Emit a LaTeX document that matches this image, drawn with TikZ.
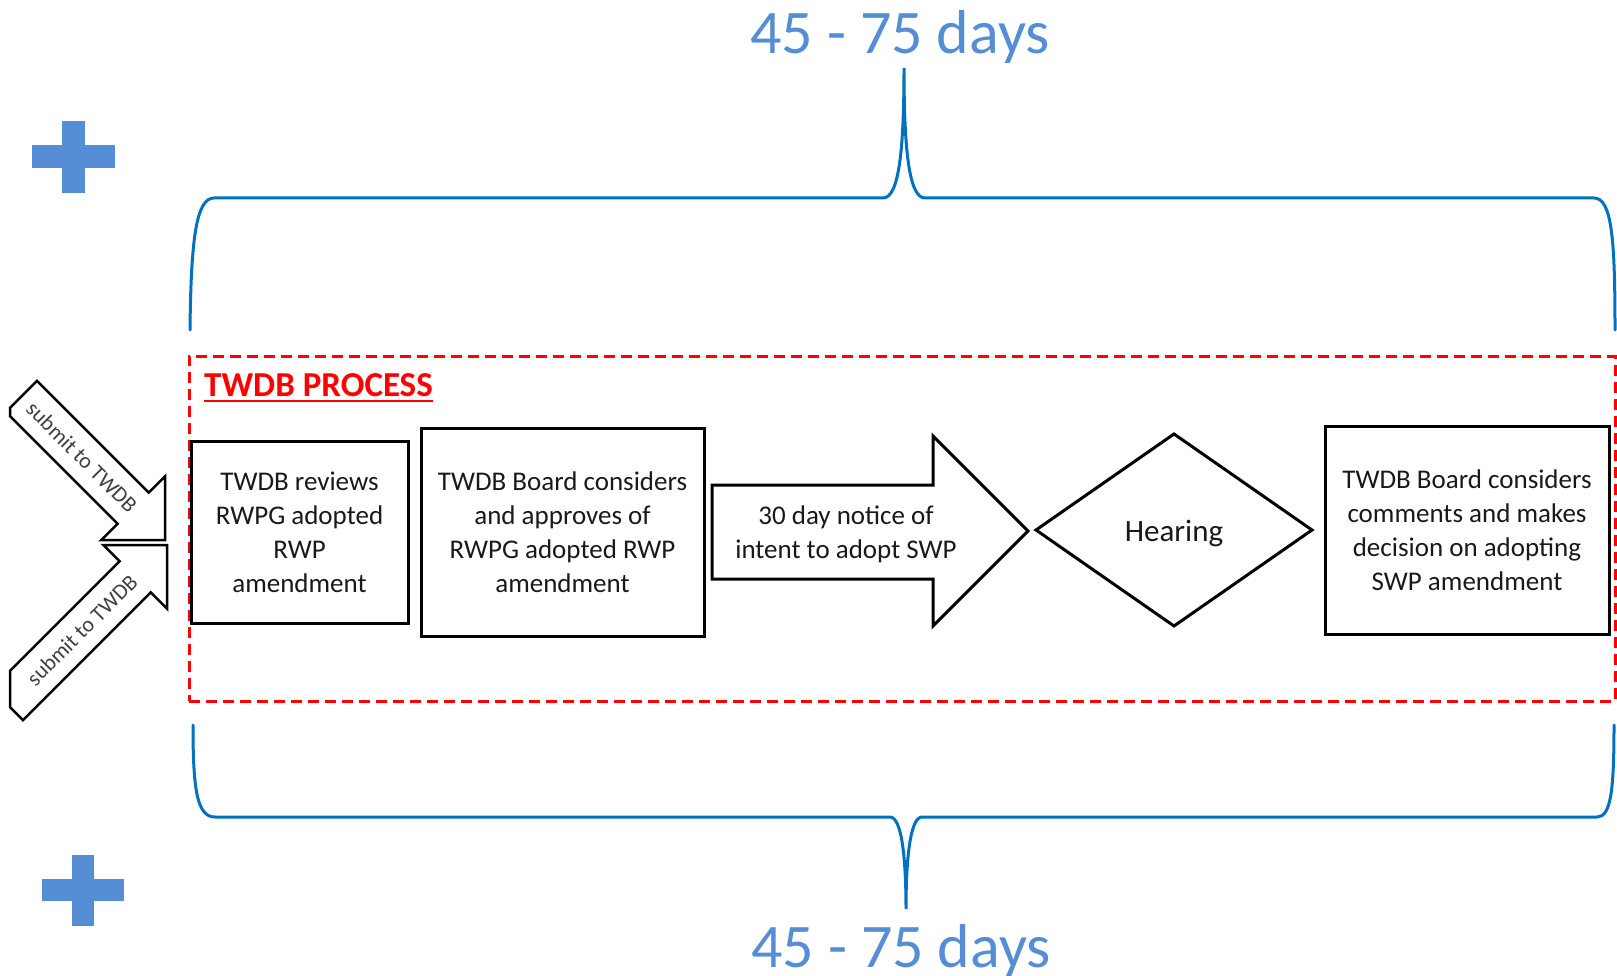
\documentclass[tikz,border=0pt]{standalone}
\usepackage{fontspec}
\setmainfont{Carlito}
\definecolor{bracecol}{HTML}{0070C0}
\definecolor{lightblue}{HTML}{558ED5}
\definecolor{procred}{HTML}{FF0000}
\begin{document}
\begin{tikzpicture}[x=1pt,y=-1pt,
  box/.style={draw=black, line width=3pt, inner sep=0pt, align=center,
    font=\fontsize{27}{34}\selectfont, text=black!90},
  shapeline/.style={draw=black, line width=3pt, line join=miter, fill=white},
  lbl/.style={inner sep=0pt, align=center, font=\fontsize{27}{34}\selectfont, text=black!90},
  days/.style={anchor=base, inner sep=0pt, text=lightblue, font=\fontsize{62}{62}\selectfont},
  brace/.style={draw=bracecol, line width=3pt, line cap=round},
  subarrow/.style={draw=black, line width=2.5pt, fill=white, line join=miter},
  subtext/.style={inner sep=0pt, text=black!75, font=\fontsize{22}{22}\selectfont},
  plus/.style={fill=lightblue}]
\useasboundingbox (0,0) rectangle (1617,976);

% plus signs
\fill[plus] (32,145.5) rectangle (115,168.5);
\fill[plus] (62,121) rectangle (85,193);
\fill[plus] (42,879) rectangle (124,901);
\fill[plus] (72,855) rectangle (94,926);

% labels
\node[days] (toplabel) at (900,54) {45 - 75 days};
\node[days] (botlabel) at (901,967) {45 - 75 days};

% braces
\draw[brace] (190,330) .. controls (191,240) and (196,198) .. (214,198) -- (883,198)
  .. controls (899,198) and (904,150) .. (904,68)
  .. controls (904,150) and (909,198) .. (925,198) -- (1594,198)
  .. controls (1612,198) and (1615,240) .. (1615,330);
\draw[brace] (193,725) .. controls (193,790) and (197,817) .. (215,817) -- (890,817)
  .. controls (902,817) and (906,860) .. (906,909)
  .. controls (906,860) and (910,817) .. (922,817) -- (1597,817)
  .. controls (1611,817) and (1614,790) .. (1614,725);

% process frame
\node[draw=procred, line width=3pt, dash pattern=on 11pt off 6pt, inner sep=0pt,
  minimum width=1426pt, minimum height=345pt] (process) at (902,528.5) {};
\node[anchor=base west, inner sep=0pt, text=procred,
  font=\fontsize{35}{35}\selectfont\bfseries] (title) at (204,396) {TWDB PROCESS};
\draw[procred, line width=2.5pt] ([yshift=-5pt]title.base west) -- ([yshift=-5pt]title.base east);

% submit arrows
\draw[subarrow] (37,380.8) -- (10,407.8) -- (10,416.2) -- (117.6,523.8) -- (101.4,540)
  -- (165,540) -- (165,476.4) -- (148.8,492.6) -- cycle;
\draw[subarrow] (167,545) -- (167,608.6) -- (150.8,592.4) -- (23,720.2) -- (10,707.2)
  -- (10,670.8) -- (119.6,561.2) -- (103.4,545) -- cycle;
\node[subtext, rotate=-45] (sub1) at (82,457) {submit to TWDB};
\node[subtext, rotate=45] (sub2) at (82,630) {submit to TWDB};

% boxes
\node[box, minimum width=217pt, minimum height=182pt] (b1) at (299.5,532)
  {TWDB reviews\\RWPG adopted\\RWP\\amendment};
\node[box, minimum width=283pt, minimum height=208pt] (b2) at (562.5,532)
  {TWDB Board considers\\and approves of\\RWPG adopted RWP\\amendment};
\node[box, minimum width=284pt, minimum height=208pt] (b5) at (1467,530)
  {TWDB Board considers\\comments and makes\\decision on adopting\\SWP amendment};

% notice arrow
\draw[shapeline] (712,485) -- (933,485) -- (933,436) -- (1028,531) -- (933,626)
  -- (933,579) -- (712,579) -- cycle;
\node[lbl] (notice) at (846,534) {30 day notice of\\intent to adopt SWP};

% hearing diamond
\draw[shapeline] (1036,530) -- (1174,434) -- (1312,530) -- (1174,626) -- cycle;
\node[lbl, font=\fontsize{31}{34}\selectfont] (hearing) at (1174,533) {Hearing};
\end{tikzpicture}
\end{document}
